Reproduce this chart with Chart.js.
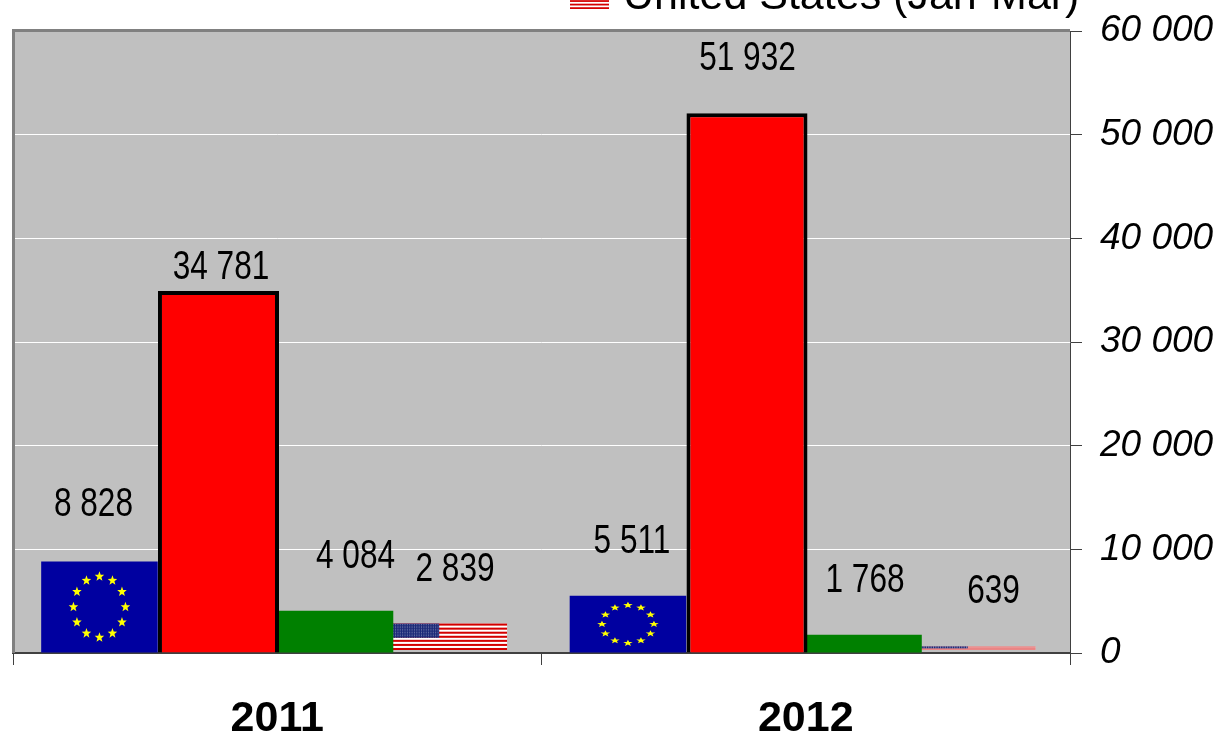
<!DOCTYPE html>
<html>
<head>
<meta charset="utf-8">
<style>
    html, body { margin: 0; padding: 0; background: #fff; overflow: hidden; }
    canvas { display: block; }
</style>
<script src="https://cdn.jsdelivr.net/npm/chart.js@4"></script>
</head>
<body>
<canvas id="chart" width="1223" height="733"></canvas>
<script>
const years = ['2011', '2012'];
const euValues = [8828, 5511];
const redValues = [34781, 51932];
const greenValues = [4084, 1768];
const usValues = [2839, 639];
const legendLabel = 'United States (Jan-Mar)';

const FONT = '"Liberation Sans", Arial, sans-serif';

// the bars are not perfectly even in the original, small corrections per series
const barShift = [-3, -0.5, -0.5, -2.5];
const barGrow = [0, 4.5, 0, -1.5];
const barLift = [0, 1.5, 0, 0];

// value labels are hand placed in the original, per series then per year
const labelDx = [[-6, 4], [2.5, 0.5], [20.5, 1.5], [5.5, 15.5]];
const labelDy = [[-2, 0], [31, 0], [0, 0], [0, 0]];

function formatNumber(v) {
    return String(v).replace(/\B(?=(\d{3})+$)/g, ' ');
}

function drawStripes(ctx, x, y, w, h) {
    const stripe = h / 13;
    ctx.fillStyle = '#fff';
    ctx.fillRect(x, y, w, h);
    ctx.fillStyle = '#d40000';
    for (let i = 0; i < 13; i += 2) {
        ctx.fillRect(x, y + i * stripe, w, stripe);
    }
}

function drawUsFlag(ctx, x, y, w, h) {
    drawStripes(ctx, x, y, w, h);
    const cw = w * 0.41;
    const ch = h * 7 / 13;
    ctx.fillStyle = '#1c2a78';
    ctx.fillRect(x, y, cw, ch);
    // tiny stars, they blur into a dotted look
    ctx.fillStyle = 'rgba(255,255,255,0.4)';
    const rows = 9;
    const cols = 20;
    for (let r = 0; r < rows; r++) {
        for (let c = 0; c < cols; c++) {
            ctx.fillRect(x + (c + 0.5) * cw / cols - 0.5, y + (r + 0.5) * ch / rows - 0.2, 1, 0.4 * ch / rows + 0.2);
        }
    }
}

function drawStar(ctx, cx, cy, rx, ry) {
    ctx.beginPath();
    for (let i = 0; i < 10; i++) {
        const k = i % 2 ? 0.42 : 1;
        const a = -Math.PI / 2 + i * Math.PI / 5;
        ctx.lineTo(cx + Math.cos(a) * rx * k, cy + Math.sin(a) * ry * k);
    }
    ctx.closePath();
    ctx.fill();
}

function drawEuStars(ctx, x, y, w, h) {
    ctx.fillStyle = '#ffff00';
    const cx = x + w / 2;
    const cy = y + h / 2;
    for (let i = 0; i < 12; i++) {
        const a = i * Math.PI / 6;
        drawStar(ctx, cx + Math.sin(a) * 26, cy - Math.cos(a) * h * 0.335, 5, Math.max(h * 0.058, 3.4));
    }
}

function drawCondensed(ctx, text, x, y) {
    ctx.save();
    ctx.translate(x, y);
    ctx.scale(0.79, 1);
    ctx.fillText(text, 0, 0);
    ctx.restore();
}

const flagPlugin = {
    id: 'flags',
    afterDatasetsUpdate(chart) {
        chart.data.datasets.forEach((ds, i) => {
            chart.getDatasetMeta(i).data.forEach(bar => {
                bar.x += barShift[i];
                bar.width += barGrow[i];
                bar.y -= barLift[i];
            });
        });
    },
    beforeDraw(chart) {
        const { ctx, chartArea: a } = chart;
        ctx.save();
        ctx.fillStyle = '#c0c0c0';
        ctx.fillRect(a.left, a.top, a.right - a.left, a.bottom - a.top);
        ctx.restore();
    },
    beforeDatasetsDraw(chart) {
        const { ctx, chartArea: a } = chart;
        ctx.save();
        ctx.fillStyle = '#808080';
        ctx.fillRect(a.left - 1, a.top - 2, a.right - a.left + 1, 3);
        ctx.fillRect(a.left - 1, a.top - 2, 3, a.bottom - a.top + 2);
        ctx.restore();
    },
    afterDatasetDraw(chart, args) {
        const { ctx } = chart;
        const bars = chart.getDatasetMeta(args.index).data;
        ctx.save();
        bars.forEach(bar => {
            const x = bar.x - bar.width / 2;
            const h = bar.base - bar.y;
            if (args.index === 0) drawEuStars(ctx, x, bar.y, bar.width, h);
            if (args.index === 3) drawUsFlag(ctx, x, bar.y, bar.width, h - 2.5);
        });
        ctx.restore();
    },
    afterDraw(chart) {
        const { ctx } = chart;
        ctx.save();
        ctx.fillStyle = '#000';
        ctx.textAlign = 'center';
        ctx.textBaseline = 'alphabetic';
        ctx.font = '40px ' + FONT;
        chart.data.datasets.forEach((ds, i) => {
            chart.getDatasetMeta(i).data.forEach((bar, j) => {
                drawCondensed(ctx, formatNumber(ds.data[j]), bar.x + labelDx[i][j], bar.y - 43 + labelDy[i][j]);
            });
        });

        // only the bottom of the legend is inside the picture
        drawStripes(ctx, 570, -14, 39, 23);
        ctx.fillStyle = '#000';
        ctx.textAlign = 'left';
        ctx.font = '43px ' + FONT;
        ctx.fillText(legendLabel, 623, 9);
        ctx.restore();
    }
};

new Chart(document.getElementById('chart'), {
    type: 'bar',
    data: {
        labels: years,
        datasets: [
            { label: 'EU', data: euValues, backgroundColor: '#0000a0' },
            { label: 'Red', data: redValues, backgroundColor: '#ff0000', borderColor: '#000', borderWidth: 4 },
            { label: 'Green', data: greenValues, backgroundColor: '#008000' },
            { label: legendLabel, data: usValues, backgroundColor: 'rgba(0,0,0,0)' }
        ]
    },
    options: {
        responsive: false,
        animation: false,
        layout: { padding: { left: 13, top: 31, right: 0, bottom: 0 } },
        datasets: { bar: { categoryPercentage: 0.882, barPercentage: 1 } },
        plugins: { legend: { display: false }, tooltip: { enabled: false } },
        scales: {
            x: {
                afterFit: s => { s.height = 80; },
                grid: { drawOnChartArea: false, tickLength: 12, color: '#404040', lineWidth: 1 },
                border: { color: '#404040', width: 2 },
                ticks: { color: '#000', padding: 28, font: { family: FONT, size: 43, weight: 'bold' } }
            },
            y: {
                position: 'right',
                min: 0,
                max: 60000,
                afterFit: s => { s.width = 153; s.paddingTop = 0; s.paddingBottom = 0; },
                grid: { color: '#ffffff', lineWidth: 1, tickLength: 12, tickColor: '#404040' },
                border: { color: '#404040', width: 1 },
                ticks: {
                    stepSize: 10000,
                    color: '#000',
                    padding: 18,
                    font: { family: FONT, size: 37, style: 'italic' },
                    callback: v => formatNumber(v)
                }
            }
        }
    },
    plugins: [flagPlugin]
});
</script>
</body>
</html>
